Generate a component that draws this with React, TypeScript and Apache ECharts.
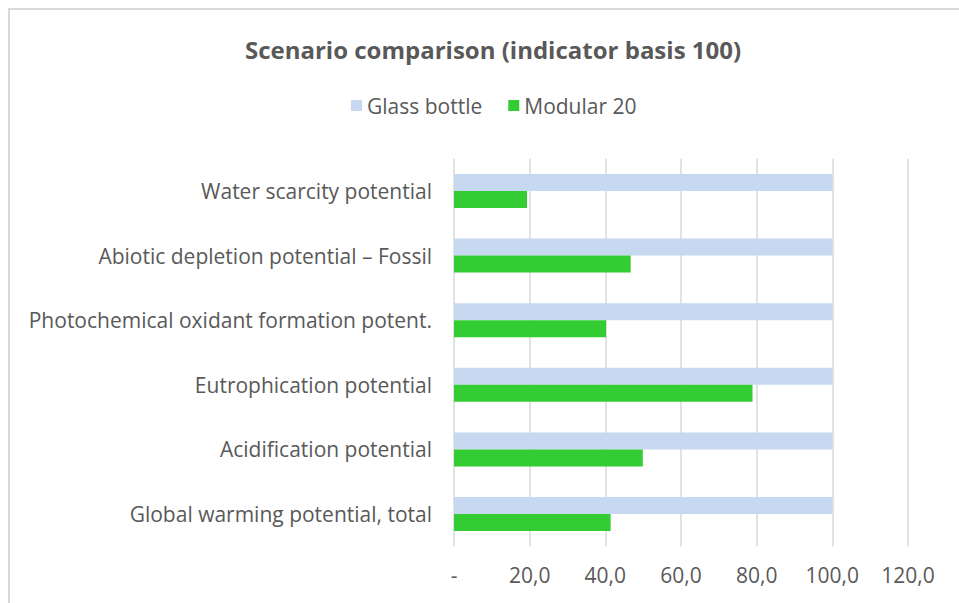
import React, { useEffect, useRef } from "react";
import * as echarts from "echarts";

const categories = [
  "Global warming potential, total",
  "Acidification potential",
  "Eutrophication potential",
  "Photochemical oxidant formation potent.",
  "Abiotic depletion potential – Fossil",
  "Water scarcity potential",
];
const glassBottle = [100, 100, 100, 100, 100, 100];
const modular20 = [41.4, 49.9, 78.9, 40.2, 46.7, 19.3];
const xMin = 0;
const xMax = 120;
const xInterval = 20;

const FONT = "'Open Sans', 'Liberation Sans', sans-serif";
const TXT = "#595959";

export default function App() {
  const ref = useRef<HTMLDivElement>(null);
  useEffect(() => {
    if (!ref.current) return;
    const chart = echarts.init(ref.current, undefined, { renderer: "svg" });
    chart.setOption({
      animation: false,
      backgroundColor: "#ffffff",
      textStyle: { fontFamily: FONT, color: TXT },
      title: {
        text: "Scenario comparison (indicator basis 100)",
        left: 488,
        textAlign: "center",
        top: 32,
        textStyle: { fontFamily: FONT, fontSize: 24, fontWeight: "bold", color: TXT },
      },
      legend: {
        data: ["Glass bottle", "Modular 20"],
        top: 90,
        left: 346,
        itemWidth: 11,
        itemHeight: 11,
        itemGap: 26,
        icon: "rect",
        textStyle: { fontFamily: FONT, fontSize: 21, color: TXT },
      },
      graphic: [
        {
          type: "rect",
          shape: { x: 9, y: 9, width: 1000, height: 1000 },
          style: { fill: "none", stroke: "#D9D9D9", lineWidth: 2 },
          silent: true,
        },
      ],
      grid: { left: 454, right: 51, top: 158.7, bottom: 56.7, containLabel: false },
      xAxis: {
        type: "value",
        min: xMin,
        max: xMax,
        interval: xInterval,
        axisLine: { show: false },
        axisTick: { show: false },
        splitLine: { lineStyle: { color: "#D9D9D9", width: 1.5 } },
        axisLabel: {
          fontFamily: FONT,
          fontSize: 21,
          color: TXT,
          margin: 18,
          formatter: (v: number) => (v === 0 ? "-" : v.toFixed(1).replace(".", ",")),
        },
      },
      yAxis: {
        type: "category",
        data: categories,
        axisLine: { show: false },
        axisTick: { show: false },
        axisLabel: { fontFamily: FONT, fontSize: 21, color: TXT, margin: 22 },
      },
      series: [
        {
          name: "Glass bottle",
          type: "bar",
          data: glassBottle,
          barWidth: 17,
          barGap: "0%",
          itemStyle: { color: "#C6D9F1" },
        },
        {
          name: "Modular 20",
          type: "bar",
          data: modular20,
          barWidth: 17,
          barGap: "0%",
          itemStyle: { color: "#33CC33" },
        },
      ],
    });
    return () => chart.dispose();
  }, []);
  return (
    <div
      ref={ref}
      style={{ position: "absolute", left: 0, top: 0, width: 959, height: 603 }}
    />
  );
}
